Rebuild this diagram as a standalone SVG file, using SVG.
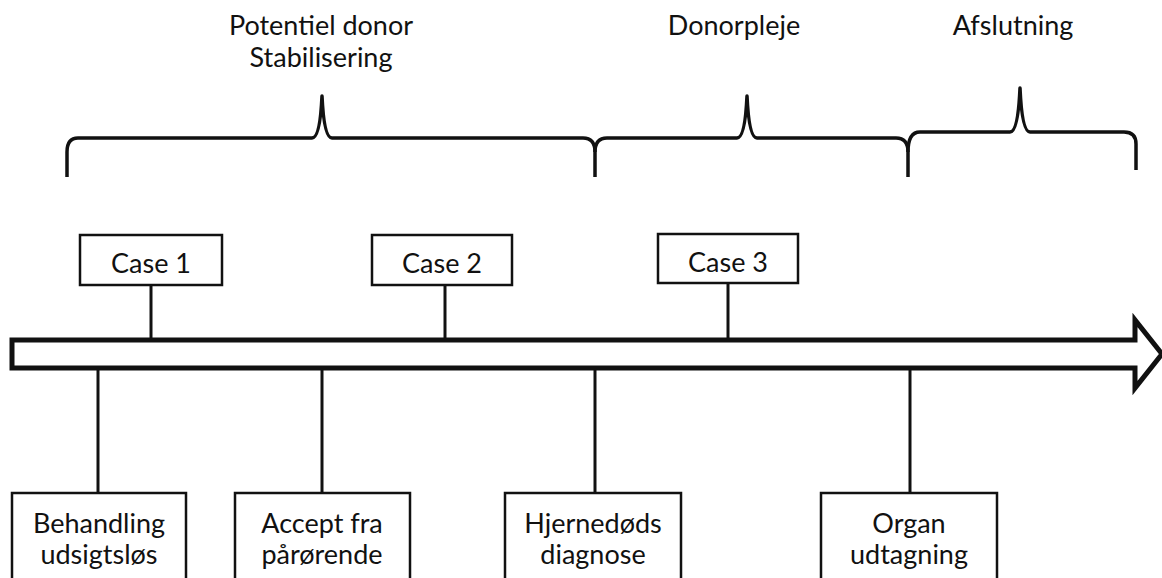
<svg xmlns="http://www.w3.org/2000/svg" width="1162" height="578" viewBox="0 0 1162 578">
<style>
text{font-family:Lato,"Liberation Sans",sans-serif;font-size:27px;fill:#111;text-anchor:middle}
.box{fill:#fff;stroke:#111;stroke-width:2.5}
.ln{stroke:#111;stroke-width:3;fill:none}
.brace{stroke:#111;stroke-width:3.5;fill:none;stroke-linejoin:round}
</style>
<rect width="1162" height="578" fill="#fff"/>
<g id="phase-labels">
<text x="321" y="35">Potentiel donor</text>
<text x="321" y="67">Stabilisering</text>
<text x="734" y="35">Donorpleje</text>
<text x="1013" y="35">Afslutning</text>
</g>
<g id="braces">
<path class="brace" d="M67,177 L67,152 Q67,138 78,138 L312,138 Q320,138 322,96 Q324,138 332,138 L583,138 Q595,138 595,152 L595,177"/>
<path class="brace" d="M595,152 Q595,138 607,138 L737,138 Q745,138 747,96 Q749,138 757,138 L896,138 Q908,138 908,152 L908,177"/>
<path class="brace" d="M908,152 Q908,132 920,132 L1010,132 Q1018,132 1020,88 Q1022,132 1030,132 L1124,132 Q1136,132 1136,144 L1136,170"/>
</g>
<g id="connectors">
<line class="ln" x1="151" y1="285" x2="151" y2="340"/>
<line class="ln" x1="445" y1="285" x2="445" y2="340"/>
<line class="ln" x1="728" y1="284" x2="728" y2="340"/>
<line class="ln" x1="98" y1="368" x2="98" y2="493"/>
<line class="ln" x1="322" y1="368" x2="322" y2="493"/>
<line class="ln" x1="595" y1="368" x2="595" y2="493"/>
<line class="ln" x1="910" y1="368" x2="910" y2="493"/>
</g>
<g id="timeline">
<path d="M12,340 L1135,340 L1135,320 L1162,354 L1135,388 L1135,368 L12,368 Z" fill="#fff" stroke="#111" stroke-width="5" stroke-linejoin="miter"/>
</g>
<g id="case1"><rect class="box" x="80" y="235" width="142" height="50"/><text x="151" y="273">Case 1</text></g>
<g id="case2"><rect class="box" x="372" y="235" width="140" height="50"/><text x="442" y="273">Case 2</text></g>
<g id="case3"><rect class="box" x="658" y="234" width="140" height="49"/><text x="728" y="272">Case 3</text></g>
<g id="behandling"><rect class="box" x="12" y="493" width="174" height="100"/><text x="99" y="533">Behandling</text><text x="99" y="564">udsigtsløs</text></g>
<g id="accept"><rect class="box" x="235" y="493" width="175" height="100"/><text x="322" y="533">Accept fra</text><text x="322" y="564">pårørende</text></g>
<g id="hjernedoeds"><rect class="box" x="505" y="493" width="176" height="100"/><text x="593" y="533">Hjernedøds</text><text x="593" y="564">diagnose</text></g>
<g id="organ"><rect class="box" x="821" y="493" width="176" height="100"/><text x="909" y="533">Organ</text><text x="909" y="564">udtagning</text></g>
</svg>
